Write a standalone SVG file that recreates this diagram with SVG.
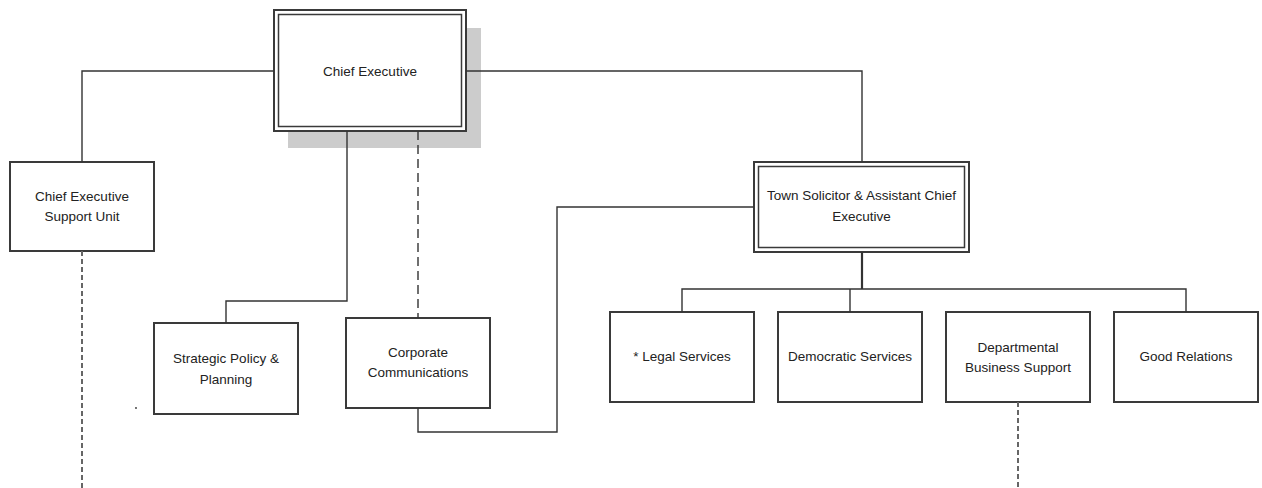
<svg xmlns="http://www.w3.org/2000/svg" width="1262" height="488" viewBox="0 0 1262 488">
<style>
.box{fill:#fff;stroke:#3a3a3a;stroke-width:2}
.inner{fill:none;stroke:#3a3a3a;stroke-width:1.5}
.shadow{fill:#cccccc}
.t{font-family:"Liberation Sans",Arial,sans-serif;font-size:13.5px;fill:#222;text-anchor:middle}
.ln{fill:none;stroke:#333;stroke-width:1.4}
.dash1{fill:none;stroke:#333;stroke-width:1.4;stroke-dasharray:9 5}
.dash2{fill:none;stroke:#666;stroke-width:2;stroke-dasharray:5 3}
</style>
<rect width="1262" height="488" fill="#fff"/>
<g id="chief-executive">
<rect class="shadow" x="288" y="28" width="193" height="120"/>
<rect class="box" x="274" y="10" width="192" height="121"/>
<rect class="inner" x="278.5" y="14.5" width="183" height="112"/>
<text class="t" x="370" y="76">Chief Executive</text>
</g>
<g id="support-unit">
<rect class="box" x="10" y="162" width="144" height="89"/>
<text class="t" x="82" y="201">Chief Executive</text>
<text class="t" x="82" y="221">Support Unit</text>
</g>
<g id="strategic-policy">
<rect class="box" x="154" y="323" width="144" height="91"/>
<text class="t" x="226" y="363">Strategic Policy &amp;</text>
<text class="t" x="226" y="384">Planning</text>
</g>
<g id="corporate-communications">
<rect class="box" x="346" y="318" width="144" height="90"/>
<text class="t" x="418" y="357">Corporate</text>
<text class="t" x="418" y="377">Communications</text>
</g>
<g id="town-solicitor">
<rect class="box" x="754" y="162" width="215" height="90"/>
<rect class="inner" x="758.5" y="166.5" width="206" height="81"/>
<text class="t" x="861.5" y="200">Town Solicitor &amp; Assistant Chief</text>
<text class="t" x="861.5" y="221">Executive</text>
</g>
<g id="legal-services">
<rect class="box" x="610" y="312" width="144" height="90"/>
<text class="t" x="682" y="361">* Legal Services</text>
</g>
<g id="democratic-services">
<rect class="box" x="778" y="312" width="144" height="90"/>
<text class="t" x="850" y="361">Democratic Services</text>
</g>
<g id="departmental-business-support">
<rect class="box" x="946" y="312" width="144" height="90"/>
<text class="t" x="1018" y="352">Departmental</text>
<text class="t" x="1018" y="372">Business Support</text>
</g>
<g id="good-relations">
<rect class="box" x="1114" y="312" width="144" height="90"/>
<text class="t" x="1186" y="361">Good Relations</text>
</g>
<g id="connectors">
<path class="ln" d="M274,71 H82 V162"/>
<path class="ln" d="M466,71 H862 V162"/>
<path class="ln" d="M347,131 V301 H226 V323"/>
<path class="dash1" d="M418,131 V318"/>
<path class="ln" d="M418,408 V432 H557 V207 H754"/>
<path class="ln" d="M862,252 V289" style="stroke-width:2.2"/>
<path class="ln" d="M682,312 V289 H1186 V312"/>
<path class="ln" d="M850,289 V312"/>
<path class="dash2" d="M82,251 V488"/>
<path class="dash2" d="M1018,402 V488"/>
</g>
<circle cx="136" cy="408" r="0.9" fill="#333"/>
</svg>
